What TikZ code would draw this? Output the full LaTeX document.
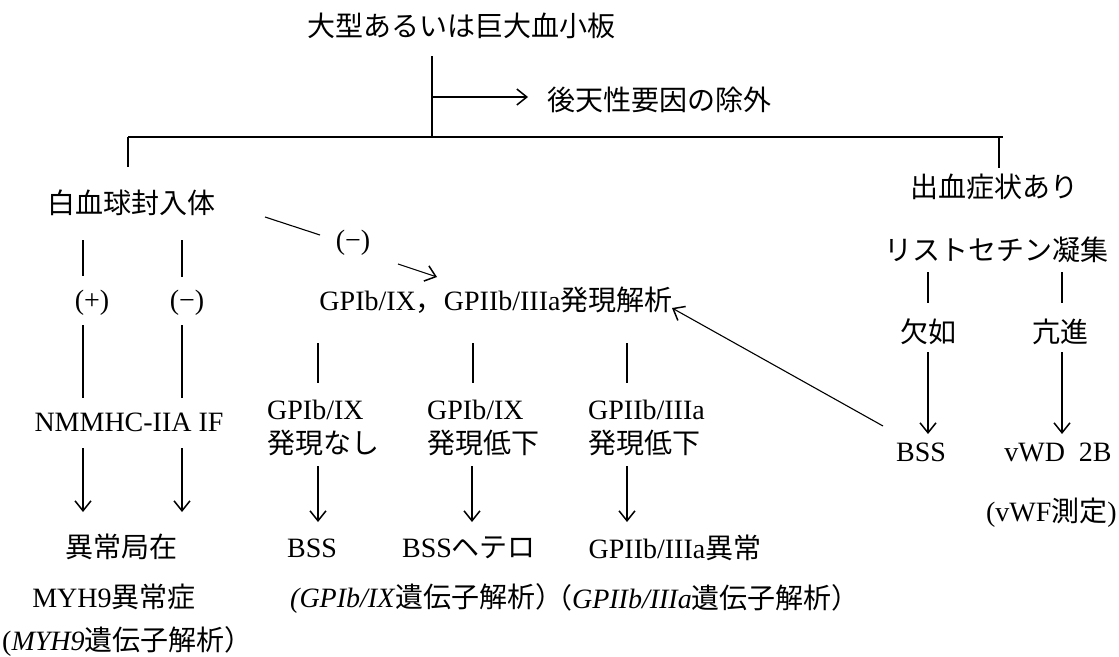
\documentclass[tikz,border=0pt]{standalone}
\usepackage{fontspec}
\setmainfont{Liberation Serif}
\newfontfamily\jpfont{Noto Sans CJK JP}
\newcommand\jtxt[1]{{\jpfont #1}}
\usetikzlibrary{arrows.meta}
\begin{document}
\begin{tikzpicture}[x=1pt,y=-1pt,
  every node/.style={inner sep=0pt,font=\fontsize{28}{33}\selectfont},
  conn/.style={line width=1.1pt},
  arr/.style={conn,-{Straight Barb[length=10pt,width=16pt,line width=1.5pt]}}]
\fill[white] (0,0) rectangle (1119,656);
\useasboundingbox (0,0) rectangle (1119,656);

% top
\node (title) at (461,26) {\jtxt{大型あるいは巨大血小板}};
\node[anchor=west] (excl) at (547,100) {\jtxt{後天性要因の除外}};
\coordinate (t0) at (432,56);
\coordinate (j1) at (432,97);
\coordinate (j0) at (432,137);
\coordinate (busL) at (128,137);
\coordinate (busR) at (1003,137);
\coordinate (dropL) at (128,167);
\coordinate (dropRt) at (999,137);
\coordinate (dropR) at (999,168);
\draw[conn] (t0) -- (j0);
\draw[arr] (j1) -- ([xshift=-19pt,yshift=3pt]excl.west);
\draw[conn] (busL) -- (busR);
\draw[conn] (busL) -- (dropL);
\draw[conn] (dropRt) -- (dropR);

% left branch
\node (wbc) at (131,203) {\jtxt{白血球封入体}};
\node (plus) at (92,303) {(+)};
\node (minusA) at (187,303) {(−)};
\node (nmm) at (129,422) {NMMHC-IIA IF};
\node (abn) at (121,547) {\jtxt{異常局在}};
\node (myh) at (114,597) {MYH9\jtxt{異常症}};
\node[anchor=west] (myhg) at (2,641) {(\textit{MYH9}\jtxt{遺伝子解析）}};
\coordinate (a1) at (83,240); \coordinate (a2) at (83,276);
\coordinate (a3) at (83,325); \coordinate (a4) at (83,398);
\coordinate (a5) at (83,448); \coordinate (a6) at (83,512);
\coordinate (b1) at (182,240); \coordinate (b2) at (182,277);
\coordinate (b3) at (182,325); \coordinate (b4) at (182,398);
\coordinate (b5) at (182,448); \coordinate (b6) at (182,512);
\draw[conn] (a1) -- (a2);
\draw[conn] (a3) -- (a4);
\draw[arr] (a5) -- (a6);
\draw[conn] (b1) -- (b2);
\draw[conn] (b3) -- (b4);
\draw[arr] (b5) -- (b6);

% diagonal to GP analysis
\node (minusB) at (353,243) {(−)};
\coordinate (d0) at (265,217); \coordinate (d0e) at (320,235);
\coordinate (d1s) at (398,264); \coordinate (d1) at (437,277);
\draw[conn] (d0) -- (d0e);
\draw[arr] (d1s) -- (d1);

% GP analysis
\node (gpa) at (496,300) {GPIb/IX\jtxt{，}GPIIb/IIIa\jtxt{発現解析}};
\coordinate (g1a) at (318,343); \coordinate (g1b) at (318,383);
\coordinate (g2a) at (473,343); \coordinate (g2b) at (473,383);
\coordinate (g3a) at (627,343); \coordinate (g3b) at (627,383);
\draw[conn] (g1a) -- (g1b);
\draw[conn] (g2a) -- (g2b);
\draw[conn] (g3a) -- (g3b);

\node[anchor=west] (gp1a) at (267,410) {GPIb/IX};
\node[anchor=west] (gp1b) at (267,443) {\jtxt{発現なし}};
\node[anchor=west] (gp2a) at (427,410) {GPIb/IX};
\node[anchor=west] (gp2b) at (427,443) {\jtxt{発現低下}};
\node[anchor=west] (gp3a) at (588,410) {GPIIb/IIIa};
\node[anchor=west] (gp3b) at (588,443) {\jtxt{発現低下}};

\coordinate (h1a) at (318,466); \coordinate (h1b) at (318,522);
\coordinate (h2a) at (472,466); \coordinate (h2b) at (472,522);
\coordinate (h3a) at (627,466); \coordinate (h3b) at (627,522);
\draw[arr] (h1a) -- (h1b);
\draw[arr] (h2a) -- (h2b);
\draw[arr] (h3a) -- (h3b);

\node (bss1) at (312,548) {BSS};
\node (bsshet) at (469,548) {BSS\jtxt{ヘテロ}};
\node (gpab) at (675,548) {GPIIb/IIIa\jtxt{異常}};
\node[anchor=west] (gen1) at (290,598) {\textit{(GPIb/IX}\jtxt{遺伝子解析）}};
\node[anchor=east] (gen2) at (860,598) {\jtxt{（}\textit{GPIIb/IIIa}\jtxt{遺伝子解析）}};

% right branch
\node (bleed) at (994,187) {\jtxt{出血症状あり}};
\node (rist) at (996,250) {\jtxt{リストセチン凝集}};
\coordinate (r1a) at (928,272); \coordinate (r1b) at (928,303);
\coordinate (r2a) at (1062,272); \coordinate (r2b) at (1062,303);
\draw[conn] (r1a) -- (r1b);
\draw[conn] (r2a) -- (r2b);
\node (lack) at (928,332) {\jtxt{欠如}};
\node (hyper) at (1060,332) {\jtxt{亢進}};
\coordinate (s1a) at (928,352); \coordinate (s1b) at (928,434);
\coordinate (s2a) at (1062,352); \coordinate (s2b) at (1062,434);
\draw[arr] (s1a) -- (s1b);
\draw[arr] (s2a) -- (s2b);
\node (bss2) at (921,452) {BSS};
\node (vwd) at (1058,452) {vWD\ \ 2B};
\node[anchor=east] (vwf) at (1117,513) {(vWF\jtxt{測定})};
\coordinate (e0) at (883,426); \coordinate (e1) at (672,308);
\draw[arr] (e0) -- (e1);
\end{tikzpicture}
\end{document}
